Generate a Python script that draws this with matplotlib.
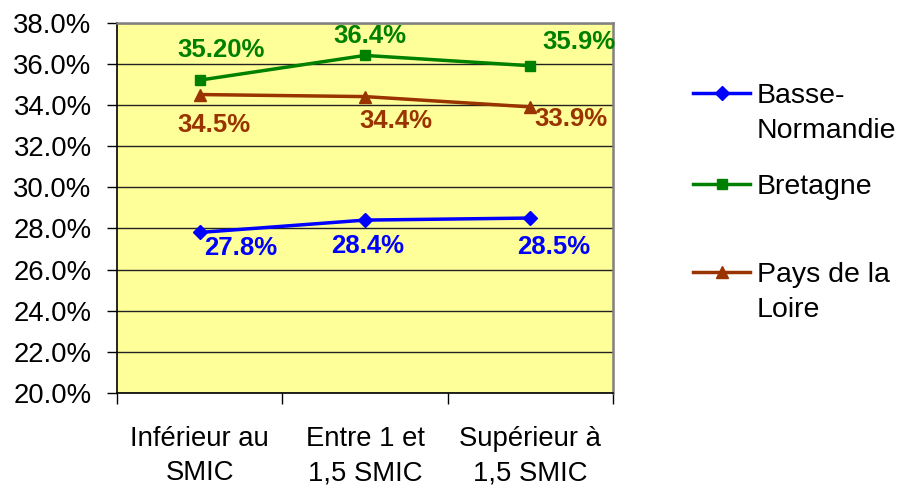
import matplotlib
matplotlib.use("Agg")
import matplotlib.pyplot as plt
from matplotlib.lines import Line2D

plt.rcParams['font.family'] = ['Liberation Sans', 'DejaVu Sans']

categories = ["Inférieur au\nSMIC", "Entre 1 et\n1,5 SMIC", "Supérieur à\n1,5 SMIC"]
series_names = ["Basse-\nNormandie", "Bretagne", "Pays de la\nLoire"]
basse_normandie = [27.8, 28.4, 28.5]
bretagne = [35.2, 36.4, 35.9]
pays_de_la_loire = [34.5, 34.4, 33.9]
label_bn = ["27.8%", "28.4%", "28.5%"]
label_br = ["35.20%", "36.4%", "35.9%"]
label_pl = ["34.5%", "34.4%", "33.9%"]
y_ticks = [20, 22, 24, 26, 28, 30, 32, 34, 36, 38]

colors = ["#0000FF", "#008000", "#993300"]
markers = ["D", "s", "^"]
msizes = [7.5, 7.5, 9]

fig = plt.figure(figsize=(9, 4.88), dpi=100)
ax = fig.add_axes([117/900, 95/488, (613-117)/900, (393-22.5)/488])
ax.set_facecolor("#FFFF99")

x = list(range(len(categories)))
all_series = [basse_normandie, bretagne, pays_de_la_loire]
all_labels = [label_bn, label_br, label_pl]
offsets = [
    [(41, -15.5), (3, -26), (23, -28.5)],
    [(21, 30.5), (5, 19), (49, 23.5)],
    [(14, -30), (31, -24), (41, -12.5)],
]

for vals, labs, offs, c, m, ms in zip(all_series, all_labels, offsets, colors, markers, msizes):
    ax.plot(x, vals, color=c, lw=2.5, marker=m, markersize=ms,
            markerfacecolor=c, markeredgecolor=c, zorder=3)
    for xi, v, lab, (dx, dy) in zip(x, vals, labs, offs):
        ax.annotate(lab, (xi, v), xytext=(dx, dy), textcoords='offset pixels',
                    ha='center', va='center', color=c, fontsize=18.5,
                    fontweight='bold', zorder=4)

ax.set_xlim(-0.5, 2.5)
ax.set_ylim(20, 38)
ax.set_yticks(y_ticks)
ax.set_yticklabels([f"{t:.1f}%" for t in y_ticks], fontsize=19.8)
ax.yaxis.grid(True, color="#222222", lw=1.0)
ax.set_axisbelow(True)

ax.set_xticks([-0.5, 0.5, 1.5, 2.5])
ax.set_xticklabels([])
ax.set_xticks(x, minor=True)
ax.set_xticklabels(categories, minor=True, fontsize=19.8, linespacing=1.4)
ax.tick_params(axis='x', which='major', direction='out', length=8, width=1, color='black')
ax.tick_params(axis='x', which='minor', length=0, pad=24)
ax.tick_params(axis='y', direction='out', length=7.5, width=1, pad=10.8, color='black')

ax.spines['left'].set_color('black')
ax.spines['bottom'].set_color('black')
ax.spines['left'].set_linewidth(1.2)
ax.spines['bottom'].set_linewidth(1.2)
for s in ['top', 'right']:
    ax.spines[s].set_color('#808080')
    ax.spines[s].set_linewidth(1.8)

# legend (manual placement to mirror the reference layout)
leg_y = [93, 184, 272]
last_baseline = [138, 194, 317]
leg_ms = [7, 7, 8]
for name, c, m, ms, yy, bl in zip(series_names, colors, markers, leg_ms, leg_y, last_baseline):
    yf = 1 - yy/488
    fig.add_artist(Line2D([693/900, 750/900], [yf, yf], transform=fig.transFigure,
                          color=c, lw=2.5))
    fig.add_artist(Line2D([721.5/900], [yf], transform=fig.transFigure,
                          color=c, marker=m, markersize=ms, markerfacecolor=c,
                          markeredgecolor=c, linestyle='none'))
    fig.text(757/900, 1 - bl/488, name, fontsize=20.5, va='baseline',
             ha='left', linespacing=1.44)

fig.savefig("out.png", dpi=100)
